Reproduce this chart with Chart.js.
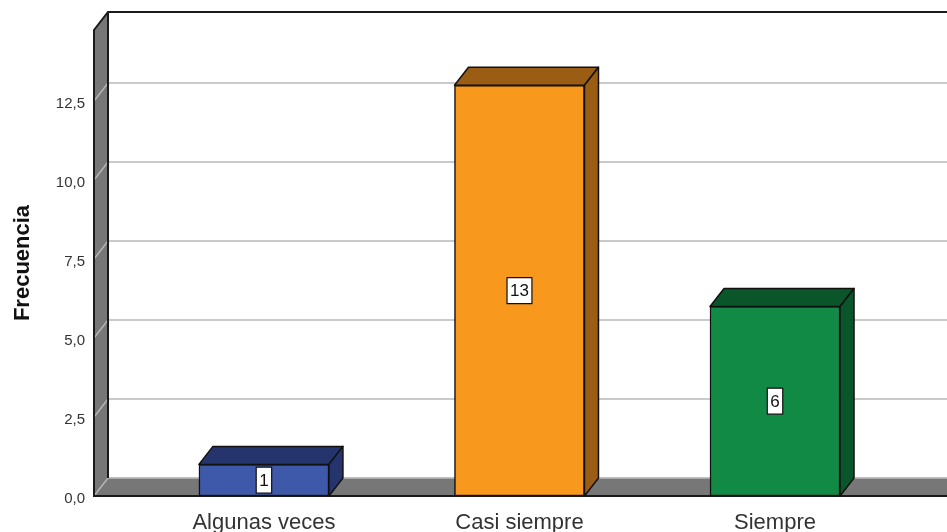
<!DOCTYPE html>
<html>
<head>
<meta charset="utf-8">
<script src="https://cdn.jsdelivr.net/npm/chart.js@4"></script>
<style>
  body { margin: 0; background: #fff; }
  #wrap { width: 947px; height: 532px; }
</style>
</head>
<body>
<div id="wrap"><canvas id="chart"></canvas></div>
<script>
// Frequency per answer
const categories = ["Algunas veces", "Casi siempre", "Siempre"];
const counts = [1, 13, 6];
const frontColors = ["#3E58AA", "#F8981D", "#118A46"];
const darkColors = ["#26346E", "#9B5D14", "#0A552A"];
const yTicks = [0, 2.5, 5, 7.5, 10, 12.5];
const yTickLabels = ["0,0", "2,5", "5,0", "7,5", "10,0", "12,5"];

// depth of the 3D effect
const DX = 14, DY = -18;

const frame3d = {
  id: "frame3d",
  beforeDatasetsDraw(chart) {
    const { ctx, chartArea: a, scales } = chart;
    const y = scales.y;
    ctx.save();
    // back wall
    ctx.fillStyle = "#fff";
    ctx.fillRect(a.left + DX, a.top + DY, a.right - a.left, a.bottom - a.top);
    // gridlines on back wall
    ctx.strokeStyle = "#cacaca";
    ctx.lineWidth = 2;
    yTicks.forEach(v => {
      const py = y.getPixelForValue(v) + DY;
      ctx.beginPath();
      ctx.moveTo(a.left + DX, py);
      ctx.lineTo(a.right + DX, py);
      ctx.stroke();
    });
    // left side panel
    ctx.fillStyle = "#777";
    ctx.beginPath();
    ctx.moveTo(a.left, a.top);
    ctx.lineTo(a.left + DX, a.top + DY);
    ctx.lineTo(a.left + DX, a.bottom + DY);
    ctx.lineTo(a.left, a.bottom);
    ctx.closePath();
    ctx.fill();
    // floor
    ctx.beginPath();
    ctx.moveTo(a.left, a.bottom);
    ctx.lineTo(a.left + DX, a.bottom + DY);
    ctx.lineTo(a.right + DX, a.bottom + DY);
    ctx.lineTo(a.right, a.bottom);
    ctx.closePath();
    ctx.fill();
    // gridlines across the side panel
    ctx.strokeStyle = "#b4b4b4";
    ctx.lineWidth = 1.5;
    yTicks.forEach(v => {
      const py = y.getPixelForValue(v);
      ctx.beginPath();
      ctx.moveTo(a.left, py);
      ctx.lineTo(a.left + DX, py + DY);
      ctx.stroke();
    });
    // floor back edge
    ctx.strokeStyle = "#bdbdbd";
    ctx.beginPath();
    ctx.moveTo(a.left + DX, a.bottom + DY);
    ctx.lineTo(a.right + DX, a.bottom + DY);
    ctx.stroke();
    // dark outlines
    ctx.strokeStyle = "#1a1a1a";
    ctx.lineWidth = 2;
    ctx.beginPath();
    ctx.moveTo(a.right + DX, a.top + DY);
    ctx.lineTo(a.left + DX, a.top + DY);
    ctx.lineTo(a.left, a.top);
    ctx.lineTo(a.left, a.bottom);
    ctx.lineTo(a.right, a.bottom);
    ctx.moveTo(a.left + DX, a.top + DY);
    ctx.lineTo(a.left + DX, a.bottom + DY);
    ctx.stroke();
    ctx.restore();
  },
  afterDatasetsDraw(chart) {
    const { ctx } = chart;
    const meta = chart.getDatasetMeta(0);
    ctx.save();
    ctx.lineWidth = 1.5;
    ctx.lineJoin = "round";
    ctx.strokeStyle = "#111";
    meta.data.forEach((bar, i) => {
      const { x, y, base, width } = bar.getProps(["x", "y", "base", "width"], true);
      const l = x - width / 2, r = x + width / 2;
      ctx.fillStyle = darkColors[i];
      // top face
      ctx.beginPath();
      ctx.moveTo(l, y);
      ctx.lineTo(l + DX, y + DY);
      ctx.lineTo(r + DX, y + DY);
      ctx.lineTo(r, y);
      ctx.closePath();
      ctx.fill();
      ctx.stroke();
      // side face
      ctx.beginPath();
      ctx.moveTo(r, y);
      ctx.lineTo(r + DX, y + DY);
      ctx.lineTo(r + DX, base + DY);
      ctx.lineTo(r, base);
      ctx.closePath();
      ctx.fill();
      ctx.stroke();
      // value label box
      const txt = String(counts[i]);
      ctx.font = "17px 'Liberation Sans', Arial, sans-serif";
      const tw = ctx.measureText(txt).width;
      const bw = tw + 6, bh = 26;
      const cy = (y + base) / 2;
      ctx.lineWidth = 1.2;
      ctx.fillStyle = "#fff";
      ctx.fillRect(x - bw / 2, cy - bh / 2, bw, bh);
      ctx.strokeRect(x - bw / 2, cy - bh / 2, bw, bh);
      ctx.fillStyle = "#111";
      ctx.textAlign = "center";
      ctx.textBaseline = "middle";
      ctx.fillText(txt, x, cy + 1);
      ctx.lineWidth = 1.5;
    });
    ctx.restore();
  }
};

new Chart(document.getElementById("chart"), {
  type: "bar",
  data: {
    datasets: [{
      data: counts.map((v, i) => ({ x: i + 1, y: v })),
      backgroundColor: frontColors,
      borderColor: "#111",
      borderWidth: 1.5,
      borderSkipped: false,
      barThickness: 130,
      clip: false
    }]
  },
  options: {
    responsive: true,
    maintainAspectRatio: false,
    animation: false,
    layout: { padding: { top: 30, left: 0, right: 0, bottom: 0 } },
    plugins: { legend: { display: false }, tooltip: { enabled: false } },
    scales: {
      x: {
        type: "linear",
        min: 0.335,
        max: 3.673,
        offset: false,
        grid: { display: false, drawTicks: false, offset: false },
        border: { display: false },
        afterBuildTicks: s => { s.ticks = categories.map((c, i) => ({ value: i + 1 })); },
        afterFit: s => { s.height = 36; },
        ticks: {
          autoSkip: false,
          maxRotation: 0,
          padding: 14,
          color: "#333",
          font: { family: "'Liberation Sans', Arial, sans-serif", size: 22 },
          callback: v => categories[v - 1]
        }
      },
      y: {
        min: 0,
        max: 14.75,
        grid: { display: false, drawTicks: false },
        border: { display: false },
        afterBuildTicks: s => { s.ticks = yTicks.map(v => ({ value: v })); },
        afterFit: s => { s.width = 94; },
        ticks: {
          padding: 9,
          labelOffset: 3,
          color: "#333",
          font: { family: "'Liberation Sans', Arial, sans-serif", size: 15 },
          callback: (v, i) => yTickLabels[i]
        },
        title: {
          display: true,
          text: "Frecuencia",
          color: "#111",
          padding: { top: 10, bottom: 0 },
          font: { family: "'Liberation Sans', Arial, sans-serif", size: 22, weight: "bold" }
        }
      }
    }
  },
  plugins: [frame3d]
});
</script>
</body>
</html>
